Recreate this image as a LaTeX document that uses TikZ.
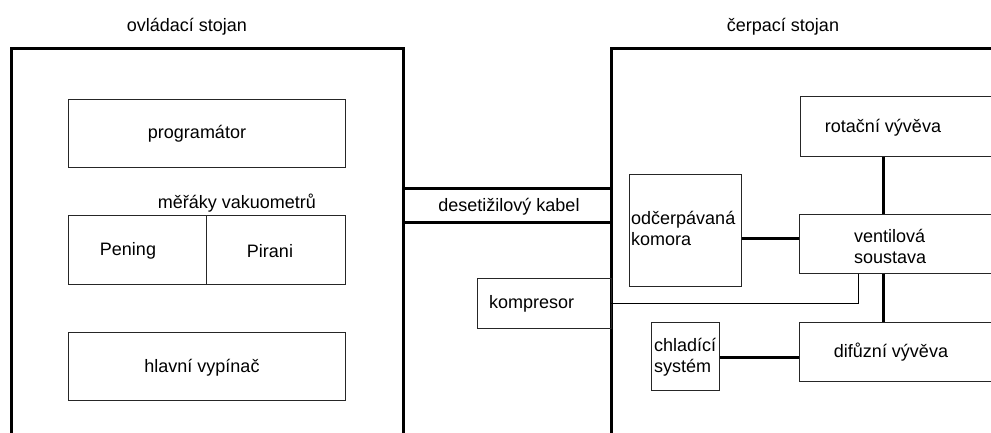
\documentclass[tikz,border=0pt]{standalone}
\usepackage{fontspec}
\setmainfont{Liberation Sans}
\begin{document}
\begin{tikzpicture}[x=1pt,y=-1pt,
  box/.style={draw=black!85,line width=1pt,inner sep=0pt,rectangle},
  heavy/.style={line width=3pt},
  thin/.style={line width=1pt},
  lbl/.style={inner sep=0pt,font=\fontsize{18}{21}\selectfont},
  lbll/.style={lbl,anchor=west,align=left}]
\useasboundingbox (0,0) rectangle (991,433);
\clip (0,0) rectangle (991,433);
% stands
\coordinate (LSbl) at (11,440);
\coordinate (LStl) at (11,49);
\coordinate (LStr) at (403,49);
\coordinate (LSbr) at (403,440);
\coordinate (RSbl) at (611,440);
\coordinate (RStl) at (611,49);
\coordinate (RStr) at (1000,49);
\draw[heavy,line cap=rect] (LSbl) -- (LStl) -- (LStr) -- (LSbr);
\draw[heavy,line cap=rect] (RSbl) -- (RStl) -- (RStr);
\node[lbl] (t1) at (187,27) {ovládací stojan};
\node[lbl] (t2) at (783,27) {čerpací stojan};
% left stand boxes
\node[box,minimum width=277pt,minimum height=68pt] (prog) at (206.5,134) {};
\node[lbl] (progt) at (197,134) {programátor};
\node[lbl] (mert) at (237,203) {měřáky vakuometrů};
\node[box,minimum width=138pt,minimum height=69pt] (pen) at (137,249.5) {};
\node[box,minimum width=139pt,minimum height=69pt] (pir) at (275.5,249.5) {};
\node[lbl] (pent) at (128,251) {Pening};
\node[lbl] (pirt) at (270,251) {Pirani};
\node[box,minimum width=277pt,minimum height=68pt] (hlav) at (206.5,366) {};
\node[lbl] (hlavt) at (202,368) {hlavní vypínač};
% cable
\coordinate (c1) at (0,189);
\coordinate (c2) at (0,222);
\draw[heavy] (LStr |- c1) -- (RStl |- c1);
\draw[heavy] (LStr |- c2) -- (RStl |- c2);
\node[lbl] (kab) at (509,207) {desetižilový kabel};
% right stand boxes
\node[box,minimum width=134pt,minimum height=50pt] (komp) at (544,303) {};
\node[lbll] (kompt) at (489,304) {kompresor};
\node[box,minimum width=112pt,minimum height=111pt] (kom) at (685,230.5) {};
\node[lbll] (komt) at (631,228) {odčerpávaná\\komora};
\node[box,minimum width=210pt,minimum height=60pt] (rot) at (905,127) {};
\node[lbl] (rott) at (883,128) {rotační vývěva};
\node[box,minimum width=211pt,minimum height=59pt] (vent) at (904.5,243.5) {};
\node[lbll] (ventt) at (854,246) {ventilová\\soustava};
\node[box,minimum width=211pt,minimum height=59pt] (dif) at (904.5,351.5) {};
\node[lbl] (dift) at (891,352) {difůzní vývěva};
\node[box,minimum width=68pt,minimum height=68pt] (chl) at (685,356) {};
\node[lbll] (chlt) at (654,357) {chladící\\systém};
% connectors
\coordinate (vx) at (883,0);
\coordinate (ky) at (0,238);
\coordinate (kx) at (858,0);
\coordinate (ly) at (0,303);
\coordinate (hy) at (0,357);
\draw[heavy] (rot.south -| vx) -- (vent.north -| vx);
\draw[heavy] (vent.south -| vx) -- (dif.north -| vx);
\draw[heavy] (kom.east |- ky) -- (vent.west |- ky);
\draw[heavy] (chl.east |- hy) -- (dif.west |- hy);
\draw[thin] (vent.south -| kx) -- (kx |- ly) -- (RStl |- ly);
\end{tikzpicture}
\end{document}
